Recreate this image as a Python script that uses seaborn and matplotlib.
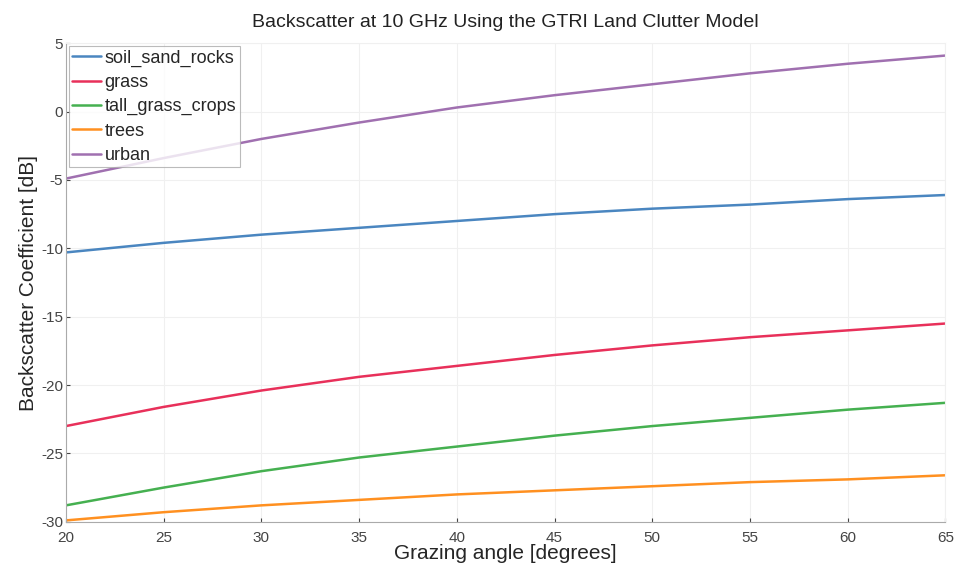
import matplotlib
matplotlib.use("Agg")
import matplotlib.pyplot as plt
import seaborn as sns
import pandas as pd

angles = [20, 25, 30, 35, 40, 45, 50, 55, 60, 65]
soil_sand_rocks = [-10.3, -9.6, -9.0, -8.5, -8.0, -7.5, -7.1, -6.8, -6.4, -6.1]
grass = [-23.0, -21.6, -20.4, -19.4, -18.6, -17.8, -17.1, -16.5, -16.0, -15.5]
tall_grass_crops = [-28.8, -27.5, -26.3, -25.3, -24.5, -23.7, -23.0, -22.4, -21.8, -21.3]
trees = [-29.9, -29.3, -28.8, -28.4, -28.0, -27.7, -27.4, -27.1, -26.9, -26.6]
urban = [-4.9, -3.4, -2.0, -0.8, 0.3, 1.2, 2.0, 2.8, 3.5, 4.1]

series = {
    "soil_sand_rocks": soil_sand_rocks,
    "grass": grass,
    "tall_grass_crops": tall_grass_crops,
    "trees": trees,
    "urban": urban,
}
colors = ["#4a86c0", "#e8305a", "#45b050", "#ff9020", "#a070b0"]

rows = []
for name, vals in series.items():
    for a, v in zip(angles, vals):
        rows.append({"angle": a, "value": v, "type": name})
df = pd.DataFrame(rows)

sns.set_style("white")
plt.rcParams["font.family"] = ["Liberation Sans", "DejaVu Sans"]
plt.rcParams["axes.unicode_minus"] = False

fig = plt.figure(figsize=(9.55, 5.69), dpi=100)
ax = fig.add_axes([0.069, 0.083, 0.921, 0.841])
sns.lineplot(data=df, x="angle", y="value", hue="type",
             hue_order=list(series.keys()), palette=colors,
             linewidth=1.8, ax=ax)

ax.set_xlim(20, 65)
ax.set_ylim(-30, 5)
ax.set_xticks(range(20, 66, 5))
ax.set_yticks(range(-30, 6, 5))
ax.grid(True, color="#f0f0f0", linewidth=0.8)
for s in ["top", "right"]:
    ax.spines[s].set_color("#f0f0f0")
for s in ["left", "bottom"]:
    ax.spines[s].set_color("#aaaaaa")
ax.tick_params(axis="both", labelsize=11, colors="#444444", length=3,
               direction="in", left=True, bottom=True)
ax.tick_params(axis="y", pad=2)
ax.tick_params(axis="x", pad=7)
ax.set_xlabel("Grazing angle [degrees]", fontsize=15, labelpad=-1)
ax.set_ylabel("Backscatter Coefficient [dB]", fontsize=15, labelpad=2)
ax.set_title("Backscatter at 10 GHz Using the GTRI Land Clutter Model",
             fontsize=14, color="#222222", pad=12)

leg = ax.legend(loc="upper left", fontsize=13, frameon=True, fancybox=False,
                borderpad=0.2, labelspacing=0.4, handlelength=1.6,
                handletextpad=0.2, borderaxespad=0.15)
leg.get_frame().set_edgecolor("#aaaaaa")
leg.get_frame().set_linewidth(0.8)

fig.savefig("out.png", dpi=100)
